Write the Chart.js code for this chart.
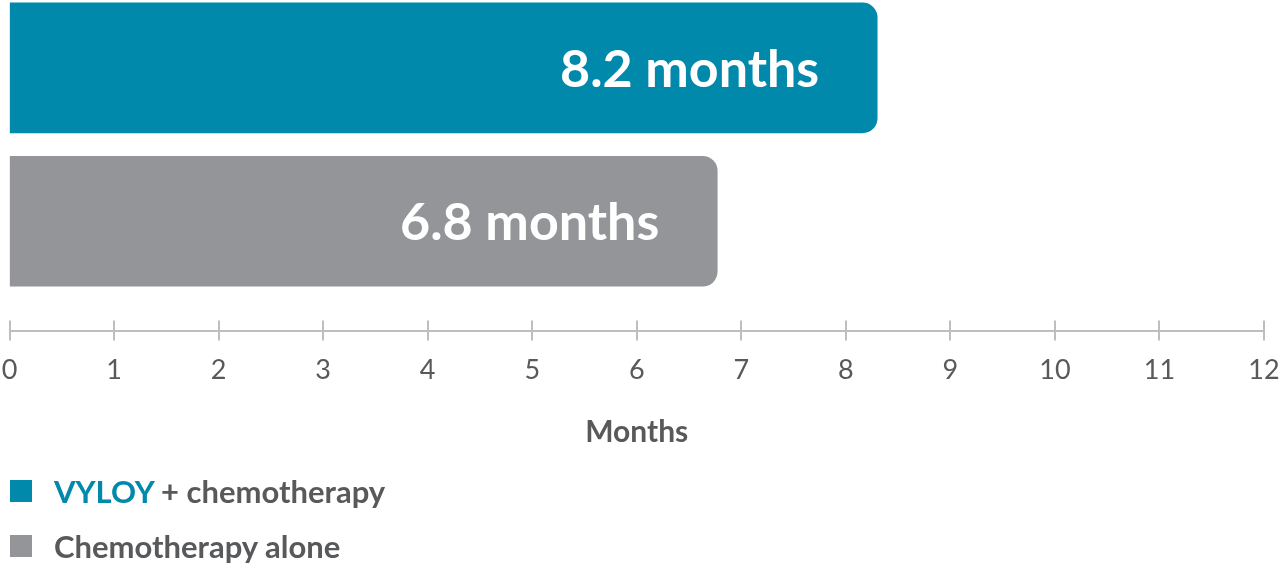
<!DOCTYPE html>
<html>
<head>
<meta charset="utf-8">
<script src="https://cdn.jsdelivr.net/npm/chart.js@4.4.1/dist/chart.umd.min.js"></script>
<style>
  html, body { margin: 0; padding: 0; background: #fff; }
  #wrap { position: relative; width: 1280px; height: 563px; overflow: hidden; }
  #legend { position: absolute; left: 0; top: 0; width: 100%; height: 100%; pointer-events: none; }
  .row { position: absolute; left: 10px; height: 40px; display: flex; align-items: center;
         font-family: Lato, sans-serif; font-weight: 700; font-size: 31px; color: #58595b; }
  .sw { width: 22px; height: 22px; margin-right: 22px; }
  .brand { color: #0089ab; }
</style>
</head>
<body>
<div id="wrap">
  <canvas id="chart" width="1280" height="563"></canvas>
  <div id="legend"></div>
</div>
<script>
// Bars (months), top to bottom
const categories = ['VYLOY + chemotherapy', 'Chemotherapy alone'];
const medianMonths = [8.3, 6.77];
const valueLabels = ['8.2 months', '6.8 months'];
const barColors = ['#0089ab', '#939598'];
const xTicks = [0, 1, 2, 3, 4, 5, 6, 7, 8, 9, 10, 11, 12];

const axisGrey = '#bcbec0';
const textGrey = '#58595b';

// Legend (brand name in teal, rest grey)
const legend = document.getElementById('legend');
categories.forEach((name, i) => {
    const row = document.createElement('div');
    row.className = 'row';
    row.style.top = (471 + i * 55) + 'px';
    const sw = document.createElement('span');
    sw.className = 'sw';
    sw.style.background = barColors[i];
    row.appendChild(sw);
    const label = document.createElement('span');
    if (name.startsWith('VYLOY')) {
        label.innerHTML = '<span class="brand">VYLOY</span>' + name.slice(5);
    } else {
        label.textContent = name;
    }
    row.appendChild(label);
    legend.appendChild(row);
});

// Tick marks cross the axis line, and value text sits inside the bars
const extras = {
    id: 'extras',
    afterDatasetsDraw(chart) {
        const c = chart.ctx;
        const x = chart.scales.x;
        const bottom = chart.chartArea.bottom;
        c.save();
        c.strokeStyle = axisGrey;
        c.lineWidth = 2;
        x.ticks.forEach(t => {
            const px = Math.round(x.getPixelForValue(t.value));
            c.beginPath();
            c.moveTo(px, bottom - 10);
            c.lineTo(px, bottom + 10);
            c.stroke();
        });
        c.fillStyle = '#ffffff';
        c.font = '700 52px Lato';
        c.textAlign = 'right';
        c.textBaseline = 'middle';
        chart.getDatasetMeta(0).data.forEach((bar, i) => {
            c.fillText(valueLabels[i], bar.x - 58, bar.y + 2);
        });
        c.restore();
    }
};

const ctx = document.getElementById('chart').getContext('2d');
new Chart(ctx, {
    type: 'bar',
    data: {
        datasets: [{
            data: categories.map((c, i) => ({ x: medianMonths[i], y: i })),
            backgroundColor: barColors,
            borderRadius: 15,
            borderSkipped: 'start',
            barThickness: 130
        }]
    },
    options: {
        indexAxis: 'y',
        responsive: false,
        animation: false,
        layout: { padding: { left: 9.5, right: 16, top: 0, bottom: 113 } },
        plugins: { legend: { display: false }, tooltip: { enabled: false } },
        scales: {
            y: {
                type: 'linear',
                reverse: true,
                offset: false,
                grid: { offset: false },
                min: -0.443,
                max: 1.713,
                display: false
            },
            x: {
                type: 'linear',
                min: xTicks[0],
                max: xTicks[xTicks.length - 1],
                afterBuildTicks: s => { s.ticks = xTicks.map(v => ({ value: v })); },
                grid: { drawOnChartArea: false, drawTicks: true, tickLength: 23, color: 'rgba(0,0,0,0)' },
                border: { display: true, color: axisGrey, width: 2 },
                ticks: { color: textGrey, padding: 0, font: { family: 'Lato', size: 27 } },
                title: {
                    display: true,
                    text: 'Months',
                    color: textGrey,
                    font: { family: 'Lato', size: 30, weight: '700' },
                    padding: { top: 28, bottom: 0 }
                }
            }
        }
    },
    plugins: [extras]
});
</script>
</body>
</html>
